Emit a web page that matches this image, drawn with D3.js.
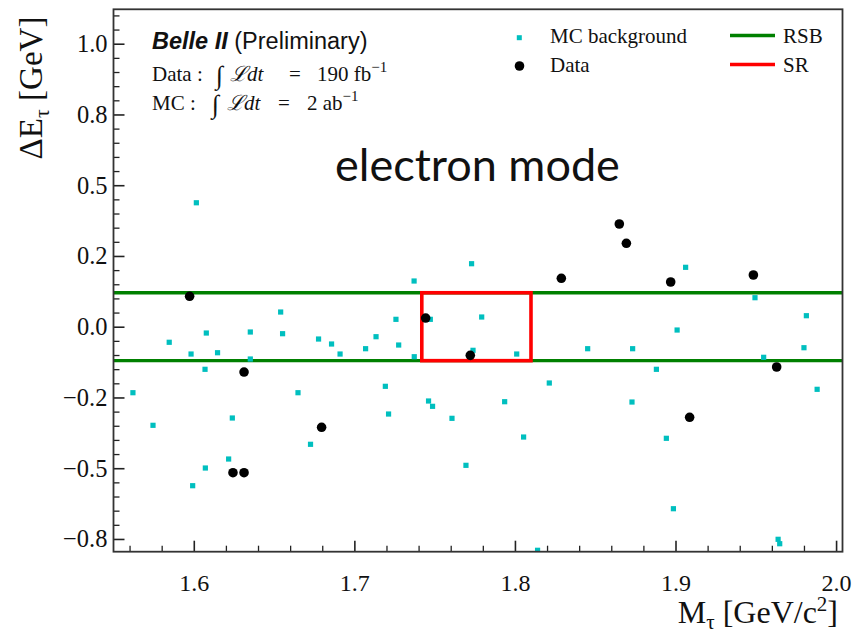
<!DOCTYPE html>
<html>
<head>
<meta charset="utf-8">
<script src="https://cdn.jsdelivr.net/npm/d3@7"></script>
<style>
  body { margin: 0; background: #fff; }
  svg text { font-family: "Liberation Serif", "DejaVu Serif", serif; fill: #111; }
</style>
</head>
<body>
<svg id="chart" width="853" height="640"></svg>
<script>
// MC background events: tau mass [GeV/c^2] and Delta E [GeV]
const mcMass = [1.6016, 1.5847, 1.5983, 1.6078, 1.6148, 1.6070, 1.6352, 1.6352, 1.6541, 1.6553,
  1.6777, 1.6858, 1.6911, 1.5621, 1.6649, 1.5746, 1.6240, 1.6727, 1.6217, 1.6072,
  1.5993, 1.7730, 1.7372, 1.7259, 1.7473, 1.7793, 1.7135, 1.7070, 1.7276, 1.7373,
  1.7739, 1.8011, 1.8453, 1.7193, 1.7213, 1.7462, 1.7487, 1.7608, 1.7936, 1.8214,
  1.8054, 1.7695, 1.8141, 1.9063, 1.9495, 1.9815, 1.9010, 1.8733, 1.9800, 1.9549,
  1.8881, 1.8729, 1.9882, 1.8943, 1.8987, 1.9639, 1.9649];
const mcDeltaE = [0.438, -0.055, -0.0965, -0.0223, -0.0919, -0.1505, -0.0187, -0.1141, 0.0519, -0.0247,
  -0.0435, -0.0611, -0.0965, -0.2332, -0.2332, -0.3484, -0.3226, -0.4155, -0.4675, -0.4993,
  -0.5618, 0.2226, 0.1615, 0.0261, 0.0261, 0.0343, -0.0353, -0.0777, -0.0647, -0.106,
  -0.0834, -0.0965, -0.0777, -0.2106, -0.3085, -0.2625, -0.2813, -0.3237, -0.265, -0.1989,
  -0.3898, -0.4898, -0.790, 0.2099, 0.1025, 0.0389, -0.0117, -0.0777, -0.0742, -0.1081,
  -0.1505, -0.2661, -0.2212, -0.3943, -0.6431, -0.7512, -0.7668];

// Observed data events
const dataMass = [1.5974, 1.6313, 1.6244, 1.6313, 1.6796, 1.7444, 1.7722, 1.8289, 1.8650, 1.8694,
  1.8970, 1.9485, 1.9630, 1.9088];
const dataDeltaE = [0.1074, -0.1601, -0.5159, -0.5159, -0.3555, 0.0307, -0.1011, 0.171, 0.3629, 0.2947,
  0.158, 0.1827, -0.1424, -0.3201];

// Axis ticks
const xTickValues = [1.6, 1.7, 1.8, 1.9, 2.0];
const xTickLabels = ["1.6", "1.7", "1.8", "1.9", "2.0"];
const yTickValues = [-0.75, -0.5, -0.25, 0, 0.25, 0.5, 0.75, 1.0];
const yTickLabels = ["\u22120.8", "\u22120.5", "\u22120.2", "0.0", "0.2", "0.5", "0.8", "1.0"];

// Region boundaries
const sidebandDeltaE = [-0.12, 0.12];
const signalMass = [1.742, 1.810];
const signalDeltaE = [-0.12, 0.12];

const svg = d3.select("#chart");
const plotLeft = 113.5, plotRight = 842.5, plotTop = 9.3, plotBottom = 551.7;

const x = d3.scaleLinear().domain([1.55, 2.004]).range([plotLeft, plotRight]);
const y = d3.scaleLinear().domain([-0.795, 1.1216]).range([plotBottom, plotTop]);

const cyan = "#00bfbf";
const green = "#008000";
const red = "#ff0000";

// Plot area clip
svg.append("defs").append("clipPath").attr("id", "plotClip")
  .append("rect").attr("x", plotLeft).attr("y", plotTop)
  .attr("width", plotRight - plotLeft).attr("height", plotBottom - plotTop);

const plot = svg.append("g").attr("clip-path", "url(#plotClip)");

// Sideband lines
plot.selectAll("line.rsb").data(sidebandDeltaE).enter().append("line")
  .attr("class", "rsb")
  .attr("x1", plotLeft).attr("x2", plotRight)
  .attr("y1", d => y(d)).attr("y2", d => y(d))
  .attr("stroke", green).attr("stroke-width", 3.4);

// Signal region box
plot.append("rect")
  .attr("x", x(signalMass[0])).attr("y", y(signalDeltaE[1]))
  .attr("width", x(signalMass[1]) - x(signalMass[0]))
  .attr("height", y(signalDeltaE[0]) - y(signalDeltaE[1]))
  .attr("fill", "none").attr("stroke", red).attr("stroke-width", 3.6);

// MC background markers
const mc = mcMass.map((m, i) => ({ m, e: mcDeltaE[i] }));
plot.selectAll("rect.mc").data(mc).enter().append("rect")
  .attr("class", "mc")
  .attr("x", d => x(d.m) - 2.6).attr("y", d => y(d.e) - 2.6)
  .attr("width", 5.2).attr("height", 5.2)
  .attr("fill", cyan);

// Data markers
const obs = dataMass.map((m, i) => ({ m, e: dataDeltaE[i] }));
plot.selectAll("circle.data").data(obs).enter().append("circle")
  .attr("class", "data")
  .attr("cx", d => x(d.m)).attr("cy", d => y(d.e))
  .attr("r", 4.8).attr("fill", "#000");

// Axes with inward ticks
const xAxis = d3.axisBottom(x).tickValues(xTickValues)
  .tickFormat((d, i) => xTickLabels[i]).tickSizeInner(-11).tickSizeOuter(0).tickPadding(22);
const gx = svg.append("g").attr("transform", `translate(0,${plotBottom})`).call(xAxis);
gx.select(".domain").remove();
gx.selectAll("line").attr("stroke", "#222").attr("stroke-width", 1.6);
gx.selectAll("text").attr("font-size", 24);

const xMinor = d3.range(1.56, 2.0001, 0.02).filter(v => !xTickValues.some(t => Math.abs(t - v) < 1e-6));
const gxm = svg.append("g").attr("transform", `translate(0,${plotBottom})`)
  .call(d3.axisBottom(x).tickValues(xMinor).tickFormat("").tickSizeInner(-6).tickSizeOuter(0));
gxm.select(".domain").remove();
gxm.selectAll("line").attr("stroke", "#222").attr("stroke-width", 1.3);

const yAxis = d3.axisLeft(y).tickValues(yTickValues)
  .tickFormat((d, i) => yTickLabels[i]).tickSizeInner(-11).tickSizeOuter(0).tickPadding(6);
const gy = svg.append("g").attr("transform", `translate(${plotLeft},0)`).call(yAxis);
gy.select(".domain").remove();
gy.selectAll("line").attr("stroke", "#222").attr("stroke-width", 1.6);
gy.selectAll("text").attr("font-size", 24.5);

const yMinor = d3.range(-0.75, 1.1001, 0.05).filter(v => !yTickValues.some(t => Math.abs(t - v) < 1e-6));
const gym = svg.append("g").attr("transform", `translate(${plotLeft},0)`)
  .call(d3.axisLeft(y).tickValues(yMinor).tickFormat("").tickSizeInner(-6).tickSizeOuter(0));
gym.select(".domain").remove();
gym.selectAll("line").attr("stroke", "#222").attr("stroke-width", 1.3);

// Frame
svg.append("rect").attr("x", plotLeft).attr("y", plotTop)
  .attr("width", plotRight - plotLeft).attr("height", plotBottom - plotTop)
  .attr("fill", "none").attr("stroke", "#333").attr("stroke-width", 1.8);

// Axis titles
const yTitle = svg.append("text")
  .attr("transform", "translate(42,88) rotate(-90)")
  .attr("text-anchor", "middle").attr("font-size", 33);
yTitle.append("tspan").text("\u0394E");
yTitle.append("tspan").attr("font-size", 22).attr("dy", 7).text("\u03c4");
yTitle.append("tspan").attr("dy", -7).text(" [GeV]");

const xTitle = svg.append("text")
  .attr("x", 838).attr("y", 623)
  .attr("text-anchor", "end").attr("font-size", 32);
xTitle.append("tspan").text("M");
xTitle.append("tspan").attr("font-size", 21).attr("dy", 6).text("\u03c4");
xTitle.append("tspan").attr("dy", -6).text(" [GeV/c");
xTitle.append("tspan").attr("font-size", 21).attr("dy", -12).text("2");
xTitle.append("tspan").attr("dy", 12).text("]");

// Experiment label
const belle = svg.append("text").attr("x", 152).attr("y", 49)
  .style("font-family", "'Liberation Sans', Arial, sans-serif").attr("font-size", 23.5);
belle.append("tspan").attr("font-weight", "bold").attr("font-style", "italic").text("Belle II");
belle.append("tspan").text(" (Preliminary)");

// Integrated luminosity lines
function lumiLine(yPos, label, xs, amount, unit) {
  const g = svg.append("g").attr("font-size", 21);
  g.append("text").attr("x", 152).attr("y", yPos).text(label + " :");
  g.append("text").attr("x", xs[0]).attr("y", yPos + 3).attr("font-size", 26).text("\u222b");
  g.append("text").attr("x", xs[1]).attr("y", yPos)
    .append("tspan").attr("font-style", "italic").text("\u2112dt");
  g.append("text").attr("x", xs[2]).attr("y", yPos).text("=");
  const v = g.append("text").attr("x", xs[3]).attr("y", yPos);
  v.append("tspan").text(amount + " " + unit);
  v.append("tspan").attr("font-size", 15).attr("dy", -9).text("\u22121");
}
lumiLine(81, "Data", [216, 230, 289, 317], "190", "fb");
lumiLine(110, "MC", [212, 227, 278, 307], "2", "ab");

// Legend
const legend = svg.append("g").attr("font-size", 21);
legend.append("rect").attr("x", 516.8).attr("y", 35.2).attr("width", 5).attr("height", 5).attr("fill", cyan);
legend.append("text").attr("x", 550).attr("y", 43).text("MC background");
legend.append("circle").attr("cx", 519.5).attr("cy", 66).attr("r", 4.8).attr("fill", "#000");
legend.append("text").attr("x", 550).attr("y", 72).text("Data");
legend.append("line").attr("x1", 730).attr("x2", 775).attr("y1", 35.5).attr("y2", 35.5)
  .attr("stroke", green).attr("stroke-width", 3.4);
legend.append("text").attr("x", 783).attr("y", 43).text("RSB");
legend.append("line").attr("x1", 730).attr("x2", 775).attr("y1", 64.5).attr("y2", 64.5)
  .attr("stroke", red).attr("stroke-width", 3.4);
legend.append("text").attr("x", 783).attr("y", 72).text("SR");

// Channel annotation
svg.append("text").attr("x", 335).attr("y", 181)
  .style("font-family", "Lato, 'Open Sans', sans-serif").attr("font-size", 45)
  .text("electron mode");
</script>
</body>
</html>
